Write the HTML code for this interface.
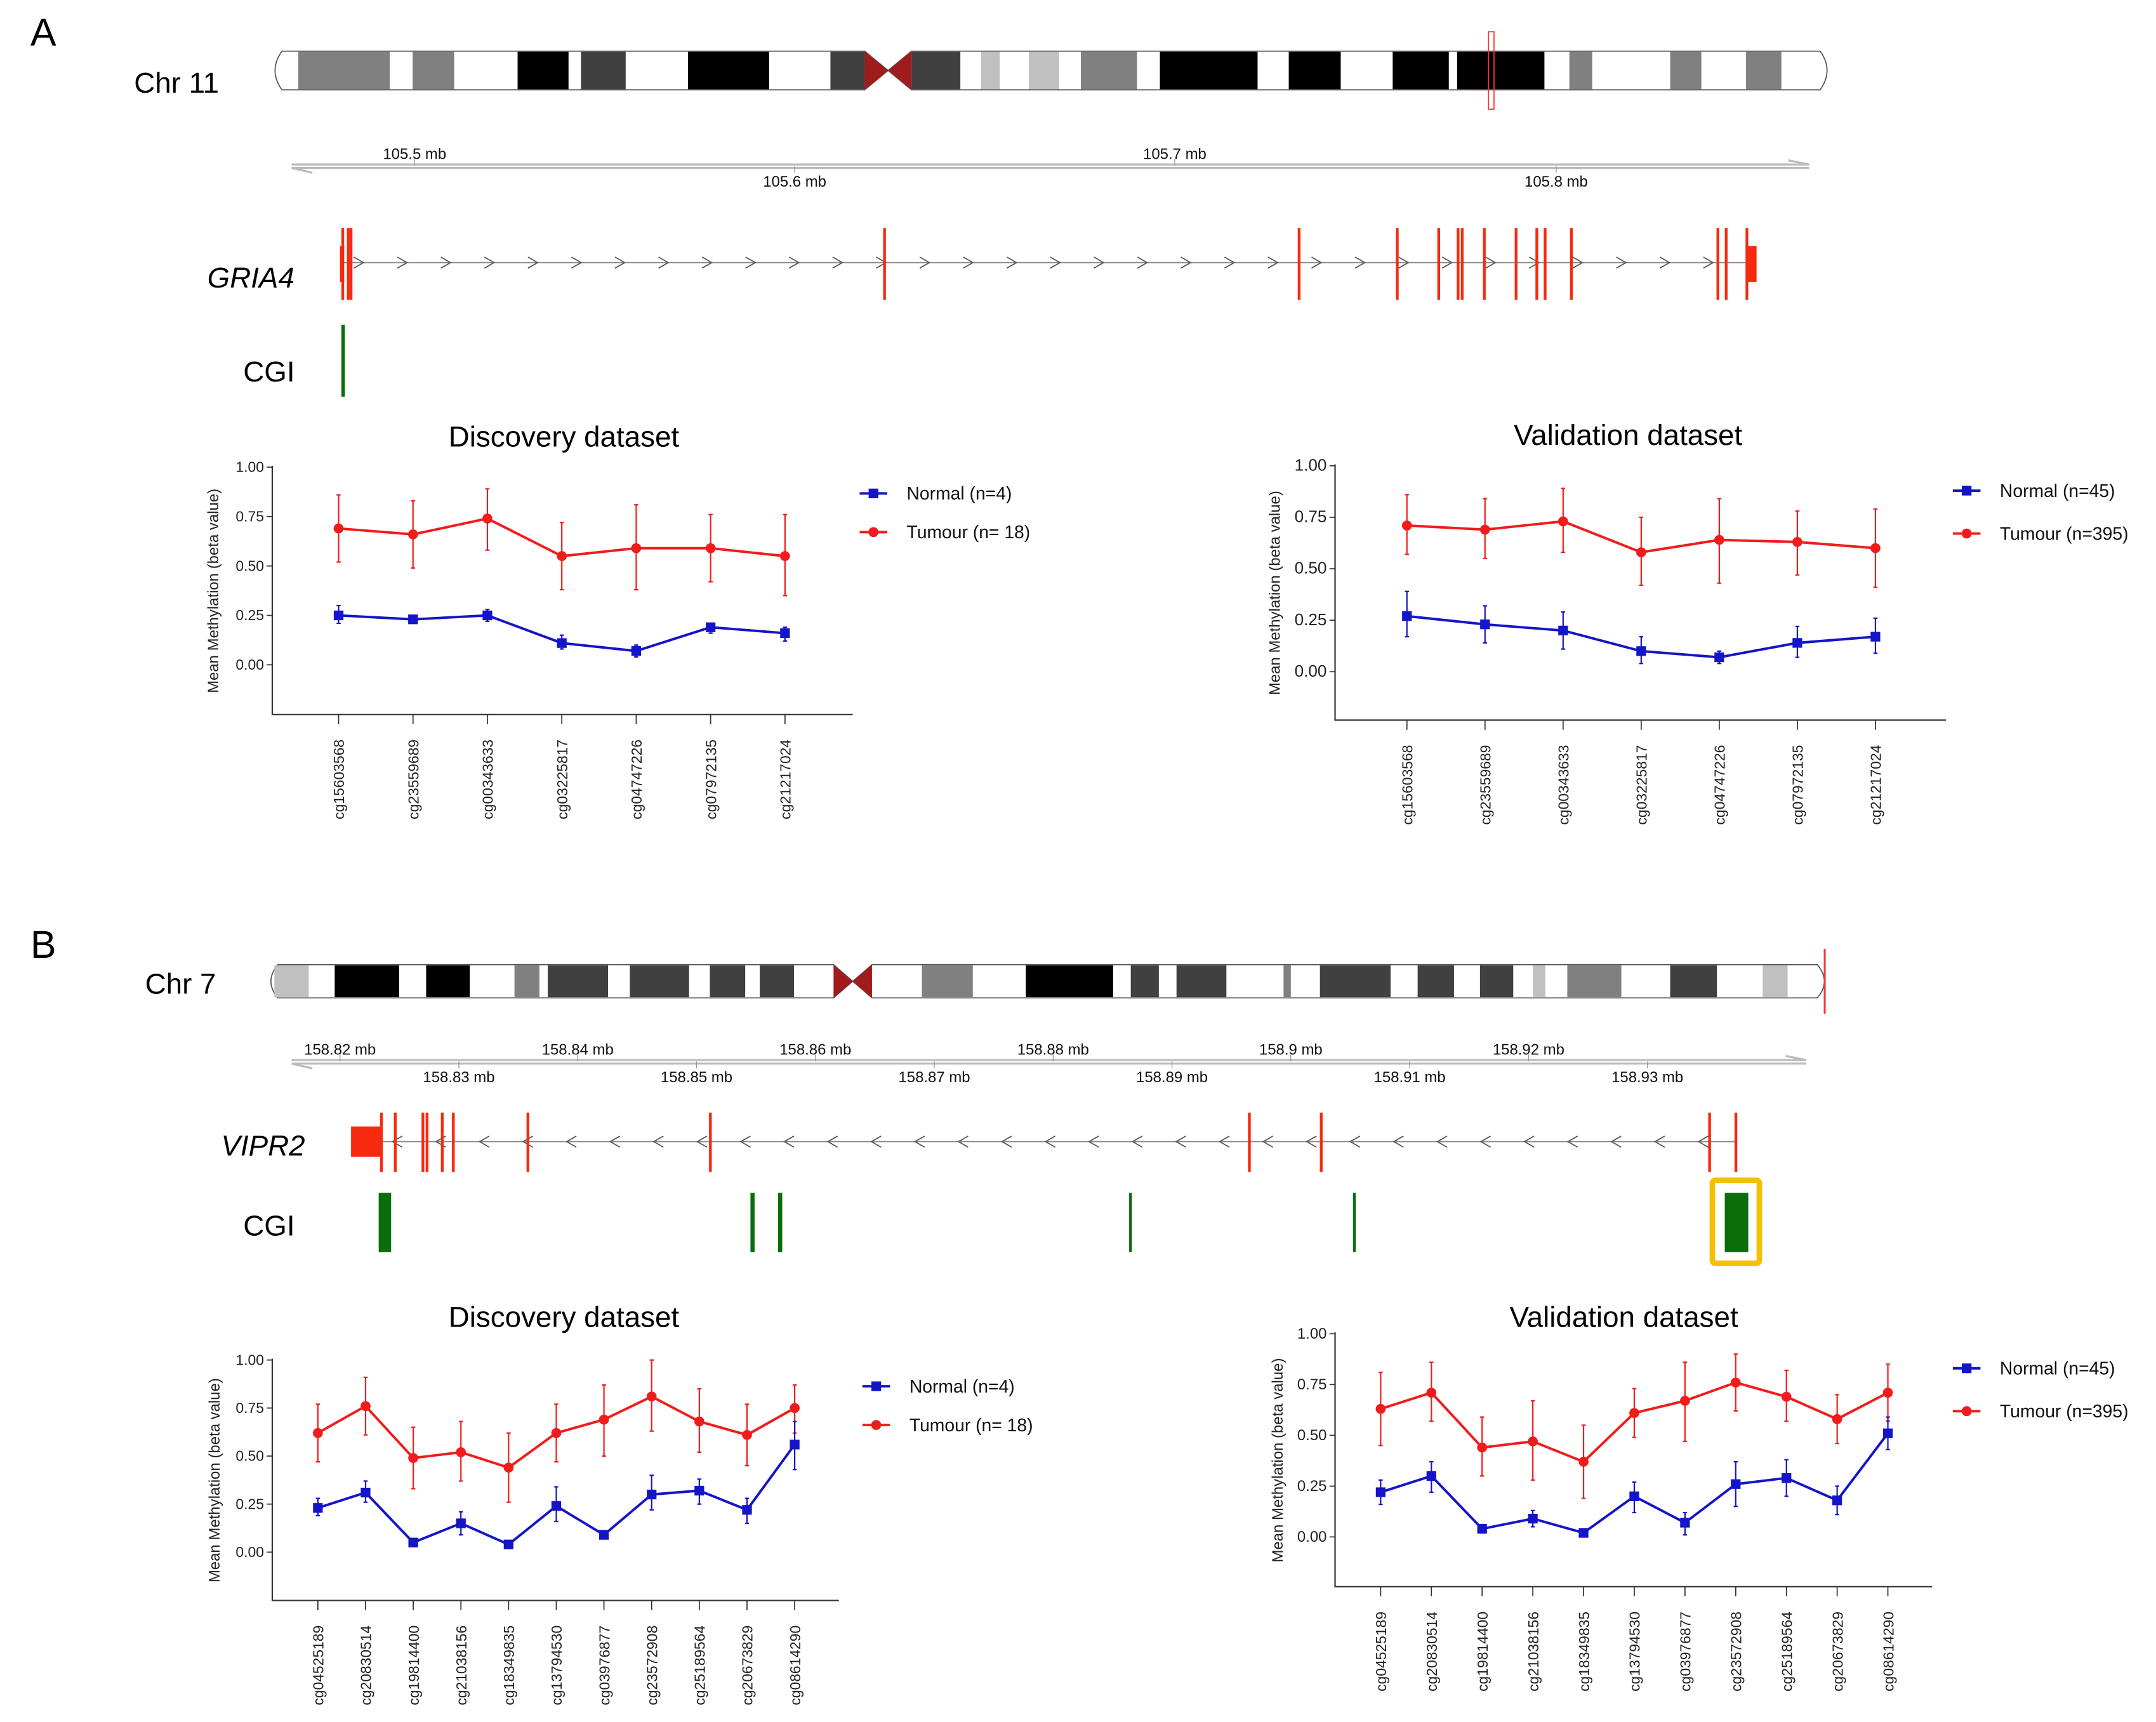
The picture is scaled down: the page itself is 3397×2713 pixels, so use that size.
<!DOCTYPE html>
<html><head><meta charset="utf-8"><style>
html,body{margin:0;padding:0;background:#fff;}
svg{display:block;font-family:"Liberation Sans",Arial,sans-serif;}
</style></head><body>
<svg id="fig" width="3397" height="2713" viewBox="0 0 1560 1245.9" xmlns="http://www.w3.org/2000/svg">
<rect width="1560" height="1246" fill="#fff"/>
<text x="22" y="33" font-size="28">A</text>
<text x="22" y="693" font-size="28">B</text>
<text x="97" y="67" font-size="21">Chr 11</text>
<text x="105" y="719" font-size="21">Chr 7</text>
<text x="150" y="208" font-size="21" font-style="italic">GRIA4</text>
<text x="176" y="276" font-size="21">CGI</text>
<text x="160" y="836" font-size="21" font-style="italic">VIPR2</text>
<text x="176" y="894" font-size="21">CGI</text>
<g id="g"></g>
</svg>
<script>
// ---- chart data ----
const probesA = ["cg15603568","cg23559689","cg00343633","cg03225817","cg04747226","cg07972135","cg21217024"];
const probesB = ["cg04525189","cg20830514","cg19814400","cg21038156","cg18349835","cg13794530","cg03976877","cg23572908","cg25189564","cg20673829","cg08614290"];
const yTicks = [0,0.25,0.5,0.75,1];
const yTickLabels = ["0.00","0.25","0.50","0.75","1.00"];
const aDiscTum = [0.69,0.66,0.74,0.55,0.59,0.59,0.55];
const aDiscTumLo = [0.52,0.49,0.58,0.38,0.38,0.42,0.35];
const aDiscTumHi = [0.86,0.83,0.89,0.72,0.81,0.76,0.76];
const aDiscNor = [0.25,0.23,0.25,0.11,0.07,0.19,0.16];
const aDiscNorLo = [0.21,0.22,0.22,0.08,0.04,0.16,0.12];
const aDiscNorHi = [0.30,0.25,0.28,0.15,0.10,0.21,0.19];
const aValTum = [0.71,0.69,0.73,0.58,0.64,0.63,0.60];
const aValTumLo = [0.57,0.55,0.58,0.42,0.43,0.47,0.41];
const aValTumHi = [0.86,0.84,0.89,0.75,0.84,0.78,0.79];
const aValNor = [0.27,0.23,0.20,0.10,0.07,0.14,0.17];
const aValNorLo = [0.17,0.14,0.11,0.04,0.04,0.07,0.09];
const aValNorHi = [0.39,0.32,0.29,0.17,0.10,0.22,0.26];
const bDiscTum = [0.62,0.76,0.49,0.52,0.44,0.62,0.69,0.81,0.68,0.61,0.75];
const bDiscTumLo = [0.47,0.61,0.33,0.37,0.26,0.47,0.50,0.63,0.52,0.45,0.62];
const bDiscTumHi = [0.77,0.91,0.65,0.68,0.62,0.77,0.87,1.00,0.85,0.77,0.87];
const bDiscNor = [0.23,0.31,0.05,0.15,0.04,0.24,0.09,0.30,0.32,0.22,0.56];
const bDiscNorLo = [0.19,0.26,0.04,0.09,0.03,0.16,0.07,0.22,0.25,0.15,0.43];
const bDiscNorHi = [0.28,0.37,0.06,0.21,0.05,0.34,0.11,0.40,0.38,0.28,0.68];
const bValTum = [0.63,0.71,0.44,0.47,0.37,0.61,0.67,0.76,0.69,0.58,0.71];
const bValTumLo = [0.45,0.57,0.30,0.28,0.19,0.49,0.47,0.62,0.57,0.46,0.57];
const bValTumHi = [0.81,0.86,0.59,0.67,0.55,0.73,0.86,0.90,0.82,0.70,0.85];
const bValNor = [0.22,0.30,0.04,0.09,0.02,0.20,0.07,0.26,0.29,0.18,0.51];
const bValNorLo = [0.16,0.22,0.02,0.05,0.01,0.12,0.01,0.15,0.20,0.11,0.43];
const bValNorHi = [0.28,0.37,0.06,0.13,0.03,0.27,0.12,0.37,0.38,0.25,0.59];
// chromosome bands [start,end,shade] in band units
const chr11Bands = [[45,133,"#808080"],[155,195,"#808080"],[256,305,"#000"],[317,360,"#404040"],[420,498,"#000"],[557,590,"#404040"],[635,682,"#404040"],[702,720,"#c0c0c0"],[748,777,"#c0c0c0"],[798,852,"#808080"],[874,968,"#000"],[998,1048,"#000"],[1098,1152,"#000"],[1160,1244,"#000"],[1268,1290,"#808080"],[1365,1395,"#808080"],[1438,1472,"#808080"]];
const chr7Bands = [[22,55,"#c0c0c0"],[80,142,"#000"],[168,210,"#000"],[253,277,"#808080"],[285,343,"#404040"],[364,421,"#404040"],[441,475,"#404040"],[489,522,"#404040"],[645,694,"#808080"],[745,829,"#000"],[846,873,"#404040"],[890,938,"#404040"],[993,1000,"#808080"],[1028,1096,"#404040"],[1122,1157,"#404040"],[1182,1214,"#404040"],[1233,1245,"#c0c0c0"],[1266,1318,"#808080"],[1365,1410,"#404040"],[1454,1478,"#c0c0c0"]];
const gria4Exons = [248,252,254,640,940,1011,1041,1055,1058,1074,1097,1112,1118,1137,1243,1249,1264];
const vipr2Exons = [276,286,306,309,320,328,382,514,904,956,1237,1256];
const cgiB = [[274,283],[543,546],[563,566],[817,819],[979,981],[1248,1265]];

const NS="http://www.w3.org/2000/svg";
const G=document.getElementById('g');
function mk(tag,attrs,parent){const e=document.createElementNS(NS,tag);for(const k in attrs)e.setAttribute(k,attrs[k]);(parent||G).appendChild(e);return e;}

function chromosome(bands,cen,y0,y1,x0,x1,name,redX){
  const g=mk('g',{});
  
  
  const bx=z=>182+0.752*z;
  const cx0=bx(cen[0]),cx1=bx(cen[1]),cm=(cx0+cx1)/2;
  mk('path',{d:`M${x0+8},${y0} L${cx0},${y0} L${cm},${(y0+y1)/2} L${cx0},${y1} L${x0+8},${y1} Q${x0-2},${(y0+y1)/2} ${x0+8},${y0} Z`,fill:'#fff',stroke:'#555','stroke-width':0.8},g);
  mk('path',{d:`M${cx1},${y0} L${x1-8},${y0} Q${x1+2},${(y0+y1)/2} ${x1-8},${y1} L${cx1},${y1} L${cm},${(y0+y1)/2} Z`,fill:'#fff',stroke:'#555','stroke-width':0.8},g);
  bands.forEach(b=>{const r=mk('rect',{x:bx(b[0]),y:y0+0.5,width:bx(b[1])-bx(b[0]),height:y1-y0-1,fill:b[2]},g);
    
    });
  mk('path',{d:`M${cx0},${y0} L${cx1},${y1} L${cx1},${y0} L${cx0},${y1} Z`,fill:'#a01c1c'},g);
  if(redX){const r=mk('rect',{x:redX[0],y:redX[1],width:redX[2],height:redX[3],fill:'none',stroke:'#f33','stroke-width':0.8},g);
    
    }
}
chromosome(chr11Bands,[590,635],37,65,196,1325,'chr11-ideogram',[1077,23,4,56]);
chromosome(chr7Bands,[560,597],698,722,193,1323,'chr7-ideogram',[1320,687,0.6,46]);

function genomeAxis(y,x0,x1,top,topX,bot,botX,name){
  const g=mk('g',{});
  
  
  mk('line',{x1:x0,y1:y-1,x2:x1,y2:y-1,stroke:'#bbb','stroke-width':1.5},g);
  mk('line',{x1:x0,y1:y+1.5,x2:x1,y2:y+1.5,stroke:'#bbb','stroke-width':1.5},g);
  mk('path',{d:`M${x1-15},${y-4} L${x1},${y-1}`,stroke:'#bbb','stroke-width':1.5,fill:'none'},g);
  mk('path',{d:`M${x0+15},${y+5} L${x0},${y+1.5}`,stroke:'#bbb','stroke-width':1.5,fill:'none'},g);
  top.forEach((t,i)=>{mk('line',{x1:topX[i],y1:y-5,x2:topX[i],y2:y,stroke:'#999','stroke-width':0.6},g);
    const e=mk('text',{x:topX[i],y:y-5,'font-size':11,'text-anchor':'middle',fill:'#111'},g);e.textContent=t;
    
    });
  bot.forEach((t,i)=>{mk('line',{x1:botX[i],y1:y,x2:botX[i],y2:y+5,stroke:'#999','stroke-width':0.6},g);
    const e=mk('text',{x:botX[i],y:y+15,'font-size':11,'text-anchor':'middle',fill:'#111'},g);e.textContent=t;
    
    });
}
genomeAxis(120,211,1309,["105.5 mb","105.7 mb"],[300,850],["105.6 mb","105.8 mb"],[575,1126],'genome-axis-a');
genomeAxis(768,211,1307,["158.82 mb","158.84 mb","158.86 mb","158.88 mb","158.9 mb","158.92 mb"],[246,418,590,762,934,1106],
  ["158.83 mb","158.85 mb","158.87 mb","158.89 mb","158.91 mb","158.93 mb"],[332,504,676,848,1020,1192],'genome-axis-b');

function gene(y,x0,x1,exons,dir,box,name,ey0,ey1){
  const g=mk('g',{});
  
  
  mk('line',{x1:x0,y1:y,x2:x1,y2:y,stroke:'#888','stroke-width':0.8},g);
  for(let x=x0+12;x<x1-6;x+=31.5){
    const d=dir>0?`M${x-4},${y-4} L${x+3},${y} L${x-4},${y+4}`:`M${x+4},${y-4} L${x-3},${y} L${x+4},${y+4}`;
    mk('path',{d,stroke:'#555','stroke-width':0.8,fill:'none'},g);
  }
  exons.forEach(x=>{const l=mk('line',{x1:x,y1:ey0,x2:x,y2:ey1,stroke:'#f52a0f','stroke-width':2},g);
    
    });
  mk('rect',{x:box[0],y:box[1],width:box[2],height:box[3],fill:'#f52a0f'},g);
}
gene(190,248,1268,gria4Exons,1,[1264,178,7,26],'gria4-gene-track',165,217);
mk('rect',{x:246,y:178,width:3,height:26,fill:'#f52a0f'});
gene(826,275,1257,vipr2Exons,-1,[254,815,22,22],'vipr2-gene-track',805,848);
const cgA=mk('rect',{x:247,y:235,width:2.5,height:52,fill:'#0a6e0a'});


cgiB.forEach(c=>{const r=mk('rect',{x:c[0],y:863,width:c[1]-c[0],height:43,fill:'#0a6e0a'});
  
  });
const hl=mk('rect',{x:1239,y:854,width:34,height:60,fill:'none',stroke:'#f5c000','stroke-width':4,rx:2});



function chart(o){
  const g=mk('g',{});
  
  
  const yS=v=>o.y0-(o.y0-o.y1)*v;
  const n=o.cats.length;
  const xS=i=>o.xa+(o.xb-o.xa)*i/(n-1);
  const t=mk('text',{x:o.tx,y:o.ty,'font-size':21,'text-anchor':'middle'},g);t.textContent=o.title;
  
  
  mk('path',{d:`M${o.left},${yS(1)-1} L${o.left},${o.bottom} L${o.right},${o.bottom}`,stroke:'#333','stroke-width':1,fill:'none'},g);
  yTicks.forEach((v,i)=>{mk('line',{x1:o.left-4,y1:yS(v),x2:o.left,y2:yS(v),stroke:'#333','stroke-width':0.8},g);
    const e=mk('text',{x:o.left-6,y:yS(v)+3.5,'font-size':o.tfs||10.5,'text-anchor':'end',fill:'#222'},g);e.textContent=yTickLabels[i];
    
    });
  const yt=mk('text',{transform:`translate(${o.ytx},${(yS(1)+o.bottom)/2}) rotate(-90)`,'font-size':11,'text-anchor':'middle',fill:'#222'},g);
  yt.textContent='Mean Methylation (beta value)';
  
  
  o.cats.forEach((c,i)=>{mk('line',{x1:xS(i),y1:o.bottom,x2:xS(i),y2:o.bottom+7,stroke:'#333','stroke-width':0.8},g);
    const e=mk('text',{transform:`translate(${xS(i)+4},${o.bottom+18}) rotate(-90)`,'font-size':10.5,'text-anchor':'end',fill:'#222'},g);e.textContent=c;
    
    });
  [[o.tum,o.tumLo,o.tumHi,'#f21b1b','tumour'],[o.nor,o.norLo,o.norHi,'#1414c8','normal']].forEach(s=>{
    const [v,lo,hi,col,nm]=s;
    v.forEach((_,i)=>{const l=mk('line',{x1:xS(i),y1:yS(lo[i]),x2:xS(i),y2:yS(hi[i]),stroke:col,'stroke-width':1},g);
      
      
      mk('line',{x1:xS(i)-1.5,y1:yS(lo[i]),x2:xS(i)+1.5,y2:yS(lo[i]),stroke:col,'stroke-width':1},g);
      mk('line',{x1:xS(i)-1.5,y1:yS(hi[i]),x2:xS(i)+1.5,y2:yS(hi[i]),stroke:col,'stroke-width':1},g);});
    const p=mk('polyline',{points:v.map((d,i)=>xS(i)+','+yS(d)).join(' '),stroke:col,'stroke-width':1.8,fill:'none'},g);
    
    
    v.forEach((d,i)=>{let m;
      if(nm==='normal')m=mk('rect',{x:xS(i)-3.5,y:yS(d)-3.5,width:7,height:7,fill:col},g);
      else m=mk('circle',{cx:xS(i),cy:yS(d),r:3.6,fill:col},g);
      
      });
  });
  [[o.ly1,'#1414c8','Normal ('+o.nN+')','rect'],[o.ly2,'#f21b1b','Tumour ('+o.nT+')','circle']].forEach(L=>{
    const lg=mk('g',{},g);
    
    
    mk('line',{x1:o.lx,y1:L[0],x2:o.lx+20,y2:L[0],stroke:L[1],'stroke-width':1.8},lg);
    if(L[3]==='rect')mk('rect',{x:o.lx+6.5,y:L[0]-3.5,width:7,height:7,fill:L[1]},lg);
    else mk('circle',{cx:o.lx+10,cy:L[0],r:3.6,fill:L[1]},lg);
    const e=mk('text',{x:o.lx+34,y:L[0]+4.5,'font-size':13,fill:'#111'},lg);e.textContent=L[2];
  });
}
chart({name:'chart-a-discovery',title:'Discovery dataset',tx:408,ty:323,cats:probesA,y0:481,y1:338,left:197,bottom:517,right:617,xa:245,xb:568,ytx:158,
  tum:aDiscTum,tumLo:aDiscTumLo,tumHi:aDiscTumHi,nor:aDiscNor,norLo:aDiscNorLo,norHi:aDiscNorHi,lx:622,ly1:357,ly2:385,nN:'n=4',nT:'n= 18'});
chart({name:'chart-a-validation',title:'Validation dataset',tx:1178,ty:322,cats:probesA,y0:486,y1:337,left:966,bottom:521,right:1408,xa:1018,xb:1357,ytx:926,tfs:12,
  tum:aValTum,tumLo:aValTumLo,tumHi:aValTumHi,nor:aValNor,norLo:aValNorLo,norHi:aValNorHi,lx:1413,ly1:355,ly2:386,nN:'n=45',nT:'n=395'});
chart({name:'chart-b-discovery',title:'Discovery dataset',tx:408,ty:960,cats:probesB,y0:1123,y1:984,left:197,bottom:1158,right:607,xa:230,xb:575,ytx:159,
  tum:bDiscTum,tumLo:bDiscTumLo,tumHi:bDiscTumHi,nor:bDiscNor,norLo:bDiscNorLo,norHi:bDiscNorHi,lx:624,ly1:1003,ly2:1031,nN:'n=4',nT:'n= 18'});
chart({name:'chart-b-validation',title:'Validation dataset',tx:1175,ty:960,cats:probesB,y0:1112,y1:965,left:966,bottom:1148,right:1398,xa:999,xb:1366,ytx:928,tfs:11,
  tum:bValTum,tumLo:bValTumLo,tumHi:bValTumHi,nor:bValNor,norLo:bValNorLo,norHi:bValNorHi,lx:1413,ly1:990,ly2:1021,nN:'n=45',nT:'n=395'});
</script>
</body></html>
